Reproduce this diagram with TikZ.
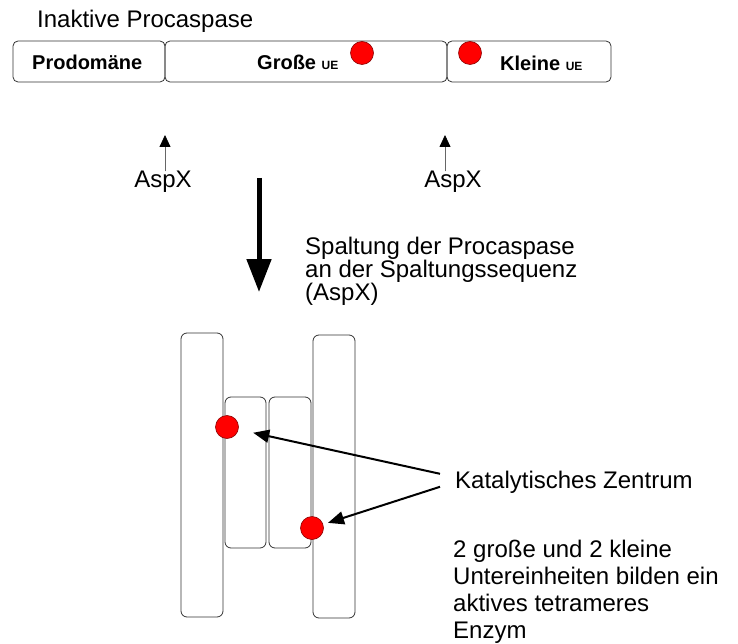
\documentclass[tikz,border=0pt]{standalone}
\usepackage{fontspec}
\setmainfont{Liberation Sans}
\usetikzlibrary{arrows.meta}

\begin{document}
\begin{tikzpicture}[x=1pt,y=-1pt,
  txt/.style={font=\fontsize{24}{23}\selectfont, inner sep=0pt},
  lbl/.style={font=\fontsize{20}{20}\selectfont\bfseries, inner sep=0pt},
  part/.style={draw=black!80, line width=0.8pt, rounded corners=5pt, minimum height=41pt, inner sep=0pt},
  bar/.style={draw=black!80, line width=0.8pt, rounded corners=6pt, minimum width=42pt, inner sep=0pt},
  site/.style={circle, fill=red, draw=red!55!black, line width=0.6pt, minimum size=23pt, inner sep=0pt},
  cut/.style={draw=black!60, line width=0.8pt, -{Triangle[length=12pt,width=11pt,black]}},
  hint/.style={line width=2pt, -{Triangle[length=16pt,width=13pt]}}]
  \useasboundingbox (0,0) rectangle (738,644);

  % inactive procaspase
  \node[txt, anchor=base west] (title) at (37,28) {Inaktive Procaspase};
  \node[part, minimum width=152pt] (pro) at (89,61.5) {};
  \node[part, minimum width=282pt] (gross) at (306,61.5) {};
  \node[part, minimum width=164pt] (klein) at (529,61.5) {};
  \node[lbl, anchor=base west] (prol) at (32,70) {Prodomäne};
  \node[lbl, anchor=base west] (grossl) at (257,70) {Große {\fontsize{12}{12}\selectfont UE}};
  \node[lbl, anchor=base west] (kleinl) at (500,71) {Kleine {\fontsize{12}{12}\selectfont UE}};
  \node[site] (s1) at (362,53) {};
  \node[site] (s2) at (470,53) {};

  % cleavage sites
  \node[txt, anchor=base] (asp1) at (163,188) {AspX};
  \node[txt, anchor=base] (asp2) at (453,188) {AspX};
  \coordinate (c1) at (165,135);
  \coordinate (c2) at (445,135);
  \draw[cut] ([xshift=2pt]asp1.north) -- (c1);
  \draw[cut] ([xshift=-8pt]asp2.north) -- (c2);

  % cleavage
  \coordinate (down1) at (259,178);
  \coordinate (down2) at (259,292);
  \draw[line width=5pt, -{Triangle[length=33pt,width=24pt]}] (down1) -- (down2);
  \node[txt, anchor=north west, align=left] (spalt) at (305,237)
    {Spaltung der Procaspase\\an der Spaltungssequenz\\(AspX)};

  % active tetramer
  \node[bar, minimum height=284pt] (big1) at (202,475) {};
  \node[bar, minimum height=283pt] (big2) at (334,476.5) {};
  \node[bar, minimum width=41pt, minimum height=151pt] (small1) at (245.5,472.5) {};
  \node[bar, minimum width=42pt, minimum height=151pt] (small2) at (290,472.5) {};
  \node[site] (d1) at (227,427) {};
  \node[site] (d2) at (312,528) {};

  \node[txt, anchor=base west] (kz) at (455,488) {Katalytisches Zentrum};
  \coordinate (k1) at ([xshift=-15pt,yshift=8pt]kz.west);
  \coordinate (k2) at ([xshift=-15pt,yshift=-5pt]kz.west);
  \draw[hint, shorten >=15pt] (k1) -- (d1);
  \draw[hint, shorten >=5pt] (k2) -- (d2);

  \node[txt, font=\fontsize{24}{27}\selectfont, anchor=north west, align=left] (tetra) at (453,540)
    {2 große und 2 kleine\\Untereinheiten bilden ein\\aktives tetrameres\\Enzym};
\end{tikzpicture}
\end{document}
